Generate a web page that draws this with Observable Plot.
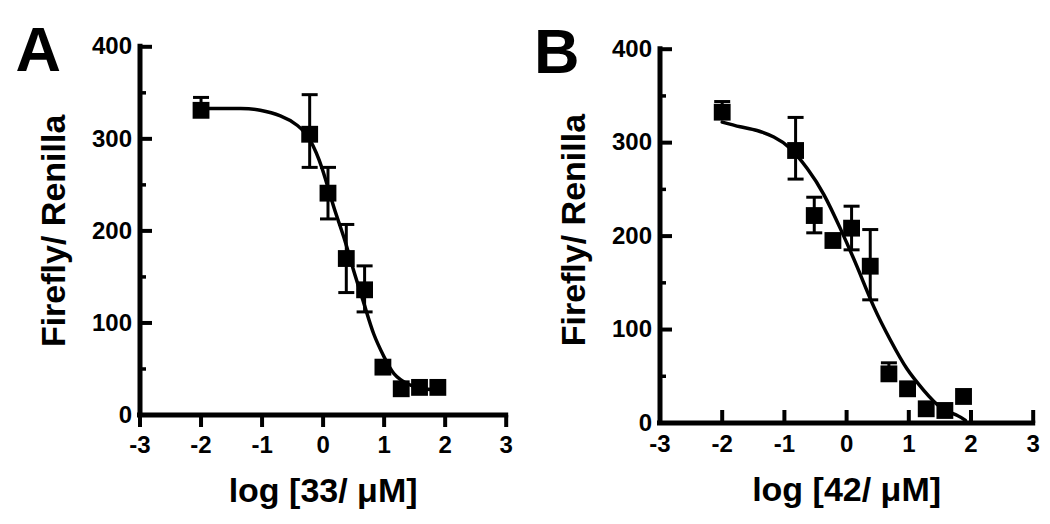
<!DOCTYPE html>
<html><head><meta charset="utf-8">
<script src="https://cdn.jsdelivr.net/npm/d3@7"></script>
<script src="https://cdn.jsdelivr.net/npm/@observablehq/plot@0.6"></script>
<style>
body{margin:0;background:#fff;}
#wrap{display:flex;width:1050px;height:524px;overflow:hidden;}
#wrap svg{font-family:"Liberation Sans",Arial,sans-serif;}
</style></head><body><div id="wrap"></div>
<script>
// ---- tick values ----
const xTicks = [-3, -2, -1, 0, 1, 2, 3];
const yMajor = [0, 100, 200, 300, 400];
const yMinor = [50, 150, 250, 350];

// ---- Panel A (compound 33) ----
const logA  = [-2, -0.22, 0.08, 0.38, 0.68, 0.98, 1.28, 1.58, 1.88];
const meanA = [331, 305, 241, 170, 136, 52, 28.5, 30, 30];
const hiA   = [345, 348, 269, 207, 162, null, null, null, null];
const loA   = [null, 269, 213, 133, 112, null, null, null, null];
const curveAx = [-2, -1.35, -1.03, -0.7, -0.42, -0.21, -0.015, 0.175, 0.34, 0.5, 0.67, 0.83, 1.0, 1.16, 1.38, 1.6, 1.88];
const curveAy = [333, 333, 331, 325, 314.5, 298, 267.5, 226, 193, 157, 121, 88, 63, 45, 34, 29, 27];

// ---- Panel B (compound 42) ----
const logB  = [-2, -0.82, -0.52, -0.22, 0.08, 0.38, 0.68, 0.98, 1.28, 1.58, 1.88];
const meanB = [332.6, 291.6, 222, 195.3, 208.5, 167.8, 52.6, 36.6, 15.2, 13.4, 28.4];
const hiB   = [344, 327, 241.6, null, 232, 207, 64.4, null, null, null, null];
const loB   = [null, 261, 203.5, null, 185.3, 131.8, null, null, null, null, null];
const curveBx = [-2, -1.71, -1.44, -1.17, -0.9, -0.63, -0.37, -0.1, 0.17, 0.44, 0.71, 0.97, 1.24, 1.51, 1.78, 1.91];
const curveBy = [322, 317, 313, 306, 293.5, 272, 245, 208, 167, 124, 88, 58, 35, 17, 8, 2.7];

const yLabel = "Firefly/ Renilla";
const FONT = "'Liberation Sans', Arial, sans-serif";

// custom line-segment symbol (pixel offsets)
const seg = (x1, y1, x2, y2) => ({draw(ctx) { ctx.moveTo(x1, y1); ctx.lineTo(x2, y2); }});

function panel(o) {
  const pts = o.xs.map((x, i) => ({x, y: o.ys[i], hi: o.hi[i], lo: o.lo[i]}));
  const curve = o.cx.map((x, i) => ({x, y: o.cy[i]}));
  const bars = pts.filter(d => d.hi != null || d.lo != null)
    .map(d => ({x: d.x, y1: d.lo != null ? d.lo : d.y, y2: d.hi != null ? d.hi : d.y}));
  const caps = [];
  pts.forEach(d => { if (d.hi != null) caps.push({x: d.x, y: d.hi}); if (d.lo != null) caps.push({x: d.x, y: d.lo}); });
  const bold = {fontWeight: "bold", fill: "black", fontFamily: FONT};
  return Plot.plot({
    width: 525, height: 524,
    marginLeft: o.mL, marginRight: o.mR, marginTop: o.mT, marginBottom: o.mB,
    style: {background: "white", fontFamily: FONT, overflow: "visible"},
    x: {domain: [-3, 3], axis: null},
    y: {domain: [0, 400], axis: null},
    marks: [
      // axis lines
      Plot.ruleX([-3], {y1: 0, y2: 400, stroke: "black", strokeWidth: 5, strokeLinecap: "square"}),
      Plot.ruleY([0], {x1: -3, x2: 3, stroke: "black", strokeWidth: 5, strokeLinecap: "square"}),
      // tick marks
      Plot.dot(yMajor, {x: () => -3, y: d => d, symbol: seg(0, 0, 12, 0), stroke: "black", strokeWidth: 4, fill: "none"}),
      Plot.dot(yMinor, {x: () => -3, y: d => d, symbol: seg(0, 0, 6, 0), stroke: "black", strokeWidth: 3.5, fill: "none"}),
      Plot.dot(xTicks, {x: d => d, y: () => 0, symbol: seg(0, 0, 0, o.xTick), stroke: "black", strokeWidth: 4, fill: "none"}),
      // tick labels
      Plot.text(yMajor, {x: () => -3, y: d => d, text: d => String(d), textAnchor: "end", dx: -8, fontSize: 24, ...bold}),
      Plot.text(xTicks, {x: d => d, y: () => 0, text: d => String(d), dy: o.xLabDy, fontSize: 24, ...bold}),
      // error bars
      Plot.ruleX(bars, {x: "x", y1: "y1", y2: "y2", stroke: "black", strokeWidth: 3}),
      Plot.dot(caps, {x: "x", y: "y", symbol: seg(-8, 0, 8, 0), stroke: "black", strokeWidth: 3, fill: "none"}),
      // fitted curve
      Plot.line(curve, {x: "x", y: "y", curve: "natural", stroke: "black", strokeWidth: 3.5}),
      // data squares
      Plot.dot(pts, {x: "x", y: "y", symbol: "square", r: 9.5, fill: "black", stroke: "none"}),
      // panel letter
      Plot.text([o.letter], {frameAnchor: "top-left", text: d => d, dx: o.letDx, dy: o.letDy, textAnchor: "start", lineAnchor: "bottom", fontSize: 63, ...bold}),
      // axis titles
      Plot.text([yLabel], {frameAnchor: "left", text: d => d, rotate: -90, dx: -86, dy: o.yTitleDy, textAnchor: "middle", lineAnchor: "middle", fontSize: 34, ...bold}),
      Plot.text([o.xlabel], {frameAnchor: "bottom", text: d => d, dy: o.xTitleDy, textAnchor: "middle", lineAnchor: "bottom", fontSize: 34, ...bold})
    ]
  });
}

const wrap = document.getElementById("wrap");
wrap.append(panel({
  letter: "A", xlabel: "log [33/ μM]",
  xs: logA, ys: meanA, hi: hiA, lo: loA, cx: curveAx, cy: curveAy,
  mL: 139.5, mR: 19.3, mT: 46.3, mB: 109.5,
  xTick: 12, xLabDy: 30, letDx: -124.5, letDy: 24, yTitleDy: 0, xTitleDy: 87
}));
wrap.append(panel({
  letter: "B", xlabel: "log [42/ μM]",
  xs: logB, ys: meanB, hi: hiB, lo: loB, cx: curveBx, cy: curveBy,
  mL: 134.5, mR: 17.3, mT: 48.7, mB: 101.5,
  xTick: -13, xLabDy: 21, letDx: -126, letDy: 24, yTitleDy: -6, xTitleDy: 78
}));
</script></body></html>
